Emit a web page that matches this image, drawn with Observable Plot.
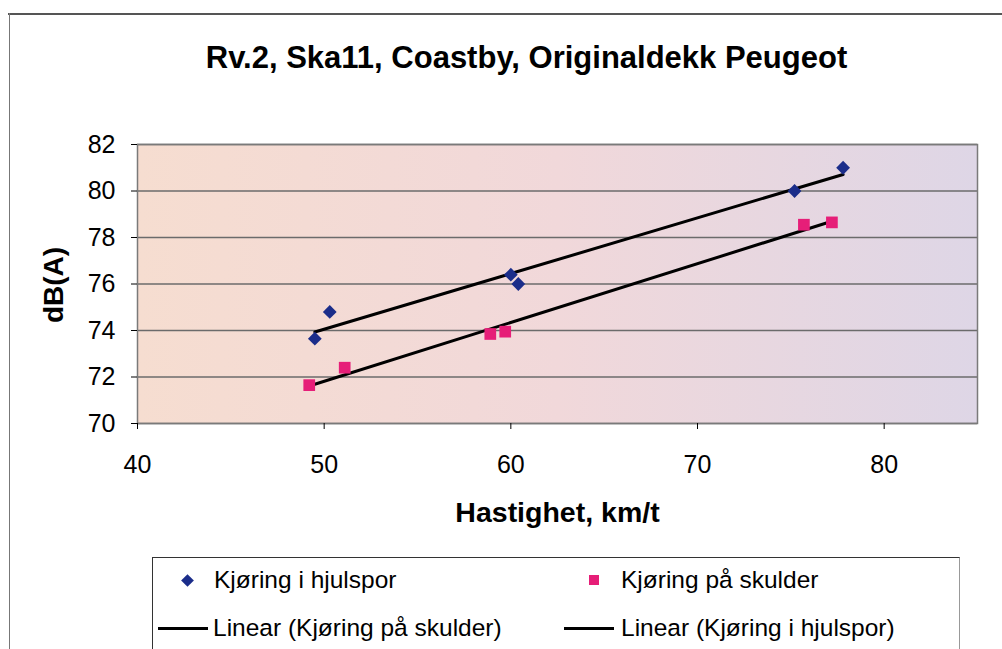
<!DOCTYPE html>
<html>
<head>
<meta charset="utf-8">
<script src="https://cdn.jsdelivr.net/npm/d3@7"></script>
<script src="https://cdn.jsdelivr.net/npm/@observablehq/plot@0.6"></script>
<style>
  html, body { margin: 0; padding: 0; background: #fff; }
  #wrap { position: relative; width: 1002px; height: 649px; overflow: hidden; font-family: "Liberation Sans", Arial, sans-serif; color: #000; }
  #chart { position: absolute; left: 0; top: 0; }
  .abs { position: absolute; white-space: nowrap; }
  #title { font-weight: bold; font-size: 31px; left: 0; width: 1053px; text-align: center; top: 40px; }
  #xlab { font-weight: bold; font-size: 28.5px; left: 0; width: 1115px; text-align: center; top: 496px; }
  #ylab { font-weight: bold; font-size: 28px; left: 54px; top: 285px; transform: translate(-50%, -50%) rotate(-90deg); }
  .leg { font-size: 24.5px; }
</style>
</head>
<body>
<div id="wrap">
  <div class="abs" style="left:8px; top:13px; width:994px; border-top:2px solid #555;"></div>
  <div class="abs" style="left:9px; top:13px; height:640px; border-left:1.5px solid #777;"></div>
  <div id="chart"></div>
  <div id="title" class="abs"></div>
  <div id="xlab" class="abs"></div>
  <div id="ylab" class="abs"></div>
  <div id="legend" class="abs" style="left:152px; top:557px; width:806px; height:120px; border-left:1.5px solid #333; border-top:1.5px solid #333; border-right:1.5px solid #999;"></div>
</div>
<script>
// ---- data ----
const titleText = "Rv.2, Ska11, Coastby, Originaldekk Peugeot";
const xLabel = "Hastighet, km/t";
const yLabel = "dB(A)";
const xTicks = [40, 50, 60, 70, 80];
const yTicks = [70, 72, 74, 76, 78, 80, 82];
const hjulNavn = "Kjøring i hjulspor";
const hjulX = [49.5, 50.3, 60.0, 60.4, 75.2, 77.8];
const hjulY = [73.65, 74.8, 76.4, 76.0, 80.0, 81.0];
const skulderNavn = "Kjøring på skulder";
const skulderX = [49.2, 51.1, 58.9, 59.7, 75.7, 77.2];
const skulderY = [71.65, 72.4, 73.85, 73.95, 78.55, 78.65];
const trendSkulderNavn = "Linear (Kjøring på skulder)";
const trendHjulNavn = "Linear (Kjøring i hjulspor)";

const hjul = hjulX.map((x, i) => ({x, y: hjulY[i]}));
const skulder = skulderX.map((x, i) => ({x, y: skulderY[i]}));

const blue = "#1b2d8a";
const pink = "#e61e78";

const chart = Plot.plot({
  width: 1002,
  height: 480,
  marginLeft: 137,
  marginRight: 25,
  marginTop: 144,
  marginBottom: 57,
  x: {domain: [40, 85]},
  y: {domain: [70, 82]},
  style: {fontFamily: "'Liberation Sans', Arial, sans-serif", fontSize: "25px", color: "#000", background: "transparent", overflow: "visible"},
  marks: [
    Plot.frame({fill: "url(#bgGrad)", stroke: "none"}),
    Plot.gridY(yTicks, {stroke: "#6b6b6b", strokeOpacity: 1, strokeWidth: 1.6}),
    Plot.frame({stroke: "#7a7a7a", strokeWidth: 1.5}),
    Plot.axisX(xTicks, {tickSize: 6, tickPadding: 26, label: null, fontSize: 25, tickFormat: d => d}),
    Plot.axisY(yTicks, {tickSize: 6, tickPadding: 16, label: null, fontSize: 25, tickFormat: d => d}),
    Plot.linearRegressionY(skulder, {x: "x", y: "y", ci: 0, stroke: "#000", strokeWidth: 3}),
    Plot.linearRegressionY(hjul, {x: "x", y: "y", ci: 0, stroke: "#000", strokeWidth: 3}),
    Plot.dot(hjul, {x: "x", y: "y", symbol: "diamond2", r: 6.2, fill: blue, stroke: "none"}),
    Plot.dot(skulder, {x: "x", y: "y", symbol: "square", r: 6.6, fill: pink, stroke: "none"})
  ]
});

d3.select(chart).insert("defs", ":first-child").html(`
  <linearGradient id="bgGrad" x1="0" y1="0" x2="1" y2="0">
    <stop offset="0" stop-color="#f6ddd0"/>
    <stop offset="0.5" stop-color="#f1d8da"/>
    <stop offset="1" stop-color="#ded6e6"/>
  </linearGradient>`);
document.getElementById("chart").appendChild(chart);

document.getElementById("title").textContent = titleText;
document.getElementById("xlab").textContent = xLabel;
document.getElementById("ylab").textContent = yLabel;

// legend
const legend = document.getElementById("legend");
function add(html) { legend.insertAdjacentHTML("beforeend", html); }
// row 1 (positions relative to legend box at 152,557)
add(`<div class="abs" style="left:30px; top:18px; width:9px; height:9px; background:${blue}; transform:rotate(45deg);"></div>`);
add(`<div class="abs leg" style="left:61px; top:8px;">${hjulNavn}</div>`);
add(`<div class="abs" style="left:436px; top:17px; width:10px; height:10px; background:${pink};"></div>`);
add(`<div class="abs leg" style="left:468px; top:8px;">${skulderNavn}</div>`);
// row 2
add(`<div class="abs" style="left:5px; top:69px; width:50px; height:3px; background:#000;"></div>`);
add(`<div class="abs leg" style="left:60px; top:56px;">${trendSkulderNavn}</div>`);
add(`<div class="abs" style="left:411px; top:69px; width:50px; height:3px; background:#000;"></div>`);
add(`<div class="abs leg" style="left:468px; top:56px;">${trendHjulNavn}</div>`);
</script>
</body>
</html>
